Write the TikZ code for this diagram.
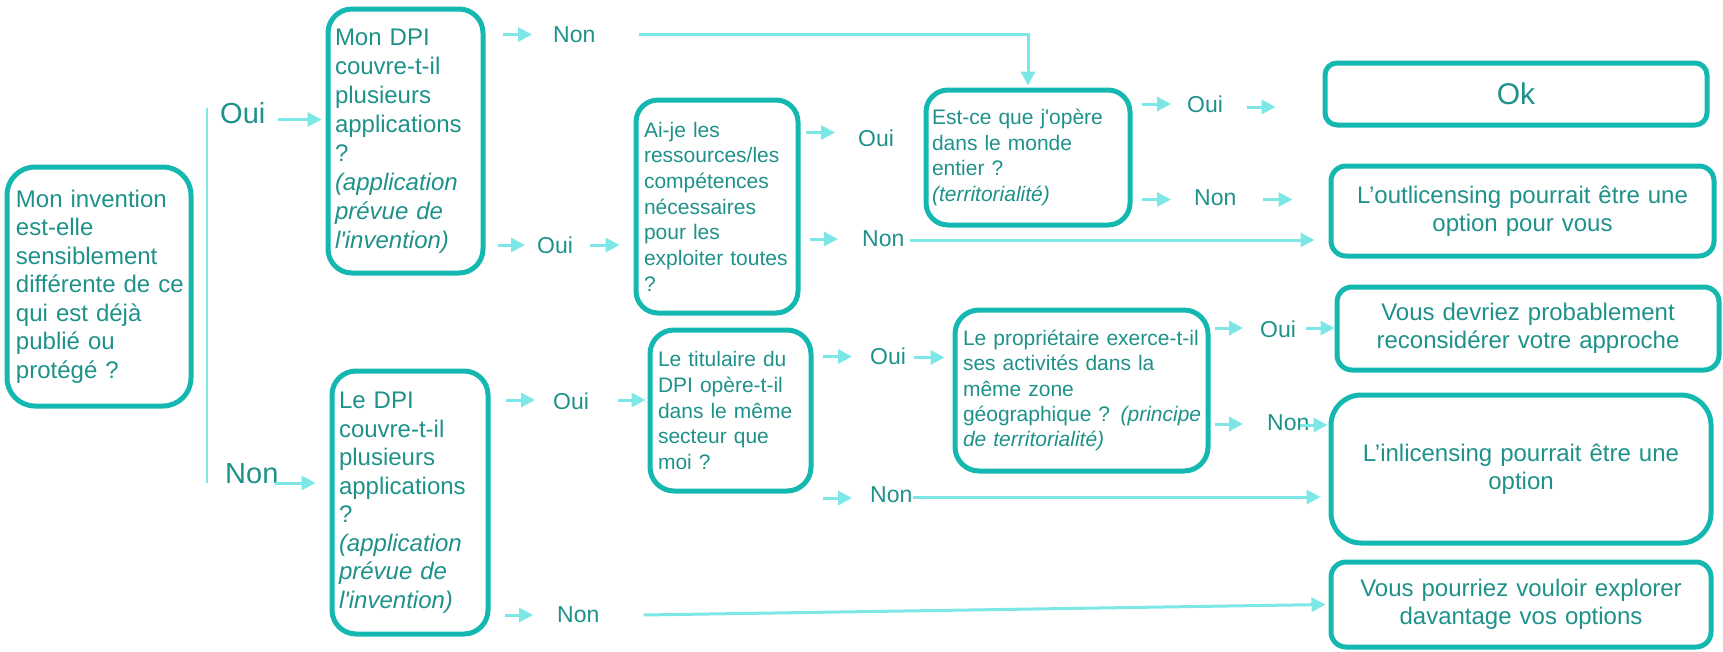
\documentclass[tikz,border=0pt]{standalone}
\usepackage{fontspec}
\setmainfont{Liberation Sans}
\usepackage{tikz}
\usetikzlibrary{arrows.meta, calc}
\definecolor{boxteal}{RGB}{20,184,176}
\definecolor{textteal}{RGB}{30,145,138}
\definecolor{linkcyan}{RGB}{125,230,230}
\tikzset{
x=1pt, y=-1pt, % one unit per pixel, y pointing down
>={Triangle[length=14pt,width=14pt]}, % filled arrow heads
question/.style={draw=boxteal, line width=5pt, rounded corners=24pt, text=textteal, align=left, inner sep=0pt}, % the questions
answer/.style={draw=boxteal, line width=5pt, rounded corners=15pt, text=textteal, align=center, inner sep=0pt, font=\fontsize{24}{28.3}\selectfont}, % the outcomes
choice/.style={text=textteal, inner sep=0pt, anchor=west, font=\fontsize{23}{28}\selectfont}, % Oui / Non
link/.style={->, draw=linkcyan, line width=3pt},
}

\begin{document}
\begin{tikzpicture}
                \useasboundingbox (0,0) rectangle (1723,651);
                % questions
                \node[question, minimum width=184pt, minimum height=239pt, text width=166pt, rounded corners=28pt, font=\fontsize{24}{28.5}\selectfont] (inv) at (99,286.5) {Mon invention\\est-elle\\sensiblement\\\mbox{différente de ce}\\qui est déjà\\publié ou\\protégé ?};
                \node[question, minimum width=155pt, minimum height=264pt, text width=141pt, font=\fontsize{24}{29}\selectfont] (dpi1) at (405.5,141) {Mon DPI\\couvre-t-il\\plusieurs\\applications\\?\\\textit{(application}\\\textit{prévue de}\\\textit{l\textquotesingle invention)}};
                \node[question, minimum width=156pt, minimum height=263pt, text width=142pt, font=\fontsize{24}{28.5}\selectfont] (dpi2) at (410,502.5) {Le DPI\\couvre-t-il\\plusieurs\\applications\\?\\\textit{(application}\\\textit{prévue de}\\\textit{l\textquotesingle invention)}};
                \node[question, minimum width=162pt, minimum height=213pt, text width=146pt, rounded corners=22pt, font=\fontsize{21}{25.7}\selectfont] (ai) at (717,206.5) {Ai-je les\\ressources/les\\compétences\\nécessaires\\pour les\\\mbox{exploiter toutes}\\?};
                \node[question, minimum width=161pt, minimum height=161pt, text width=145pt, font=\fontsize{21}{25.8}\selectfont] (tit) at (730.5,410.5) {Le titulaire du\\DPI opère-t-il\\dans le même\\secteur que\\moi ?};
                \node[question, minimum width=204pt, minimum height=135pt, text width=192pt, rounded corners=22pt, font=\fontsize{21}{25.5}\selectfont] (est) at (1028,157.5) {Est-ce que j\textquotesingle opère\\dans le monde\\entier ?\\\textit{(territorialité)}};
                \node[question, minimum width=253pt, minimum height=161pt, text width=237pt, font=\fontsize{21}{25.4}\selectfont] (prop) at (1081.5,390.5) {\mbox{Le propriétaire exerce-t-il}\\ses activités dans la\\même zone\\\mbox{géographique ? \textit{(principe}}\\\textit{de territorialité)}};
                % outcomes
                \node[answer, minimum width=382pt, minimum height=62pt, rounded corners=12pt, font=\fontsize{30}{36}\selectfont] (ok) at (1516,94) {Ok};
                \node[answer, minimum width=383pt, minimum height=90pt, text width=370pt] (out) at (1522.5,211) {L’outlicensing pourrait être une\\option pour vous};
                \node[answer, minimum width=382pt, minimum height=83pt, text width=370pt] (dev) at (1528,328.5) {Vous devriez probablement\\reconsidérer votre approche};
                \node[answer, minimum width=380pt, minimum height=148pt, text width=360pt, rounded corners=30pt] (inl) at (1521,469) {L’inlicensing pourrait être une\\option};
                \node[answer, minimum width=380pt, minimum height=85pt, text width=360pt] (exp) at (1521,604.5) {Vous pourriez vouloir explorer\\davantage vos options};
                % answers
                \node[choice, font=\fontsize{29}{34}\selectfont] (lOui0) at (220,113.5) {Oui};
                \node[choice, font=\fontsize{29}{34}\selectfont] (lNon0) at (225,474) {Non};
                \node[choice] (n1) at (553,34.5) {Non};
                \node[choice] (o1) at (537,245) {Oui};
                \node[choice] (o2) at (858,138.5) {Oui};
                \node[choice] (n2) at (862,239) {Non};
                \node[choice] (o3) at (1187,104) {Oui};
                \node[choice] (n3) at (1194,197.5) {Non};
                \node[choice] (o4) at (553,401) {Oui};
                \node[choice] (o5) at (870,356.5) {Oui};
                \node[choice] (n4) at (870,495) {Non};
                \node[choice] (n5) at (557,615) {Non};
                \node[choice] (o6) at (1260,329) {Oui};
                \node[choice] (n6) at (1267,422.5) {Non};
                % split line
                \coordinate (splitTop) at (207,108);
                \coordinate (splitBot) at (207,483);
                \draw[linkcyan, line width=2pt] (splitTop) -- (splitBot);
                % connectors
                \draw[link] ($(lOui0.east)+(12,6)$) -- ($(lOui0.east -| dpi1.west)+(-4,6)$);
                \draw[link] ($(lNon0.east)+(-4,9)$) -- ($(lNon0.east -| dpi2.west)+(-14,9)$);
                \draw[link] ($(n1.west -| dpi1.east)+(17,0)$) -- ($(n1.west)+(-21,0)$);
                \draw[link, shorten >=2pt] ($(n1.east)+(43,0)$) -| (est.north);
                \draw[link] ($(o1.west -| dpi1.east)+(12,0)$) -- ($(o1.west)+(-12,0)$);
                \draw[link] ($(o1.east)+(17,0)$) -- ($(o1.east -| ai.west)+(-14,0)$);
                \draw[link] ($(o2.west -| ai.east)+(5,-6)$) -- ($(o2.west)+(-23,-6)$);
                \draw[link] ($(n2.west -| ai.east)+(9,0)$) -- ($(n2.west)+(-24,0)$);
                \draw[link] ($(n2.east)+(5,1)$) -- ($(n2.east -| out.west)+(-14,1)$);
                \draw[link] ($(o3.west -| est.east)+(9,0)$) -- ($(o3.west)+(-16,0)$);
                \draw[link] ($(o3.east)+(24,3)$) -- ($(o3.east -| ok.west)+(-47,3)$);
                \draw[link] ($(n3.west -| est.east)+(9,2)$) -- ($(n3.west)+(-23,2)$);
                \draw[link] ($(n3.east)+(26,2)$) -- ($(n3.east -| out.west)+(-36,2)$);
                \draw[link] ($(o4.west -| dpi2.east)+(15,-1)$) -- ($(o4.west)+(-18,-1)$);
                \draw[link] ($(o4.east)+(29,-1)$) -- ($(o4.east -| tit.west)+(-2,-1)$);
                \draw[link] ($(o5.west -| tit.east)+(9,0)$) -- ($(o5.west)+(-18,0)$);
                \draw[link] ($(o5.east)+(8,1)$) -- ($(o5.east -| prop.west)+(-8,1)$);
                \draw[link] ($(n4.west -| tit.east)+(9,3)$) -- ($(n4.west)+(-18,3)$);
                \draw[link] ($(n4.east)+(0,2)$) -- ($(n4.east -| inl.west)+(-8,2)$);
                \draw[link] ($(n5.west -| dpi2.east)+(14,0)$) -- ($(n5.west)+(-24,0)$);
                \draw[link] ($(n5.east)+(44,0)$) -- ($(exp.west)+(-3,0)$);
                \draw[link] ($(o6.west -| prop.east)+(4,-1)$) -- ($(o6.west)+(-17,-1)$);
                \draw[link] ($(o6.east)+(10,-1)$) -- ($(o6.east -| dev.west)+(0,-1)$);
                \draw[link] ($(n6.west -| prop.east)+(4,1.5)$) -- ($(n6.west)+(-24,1.5)$);
                \draw[link] ($(n6.east)+(-10,2.5)$) -- ($(n6.east -| inl.west)+(-1,2.5)$);
                \end{tikzpicture}
\end{document}
